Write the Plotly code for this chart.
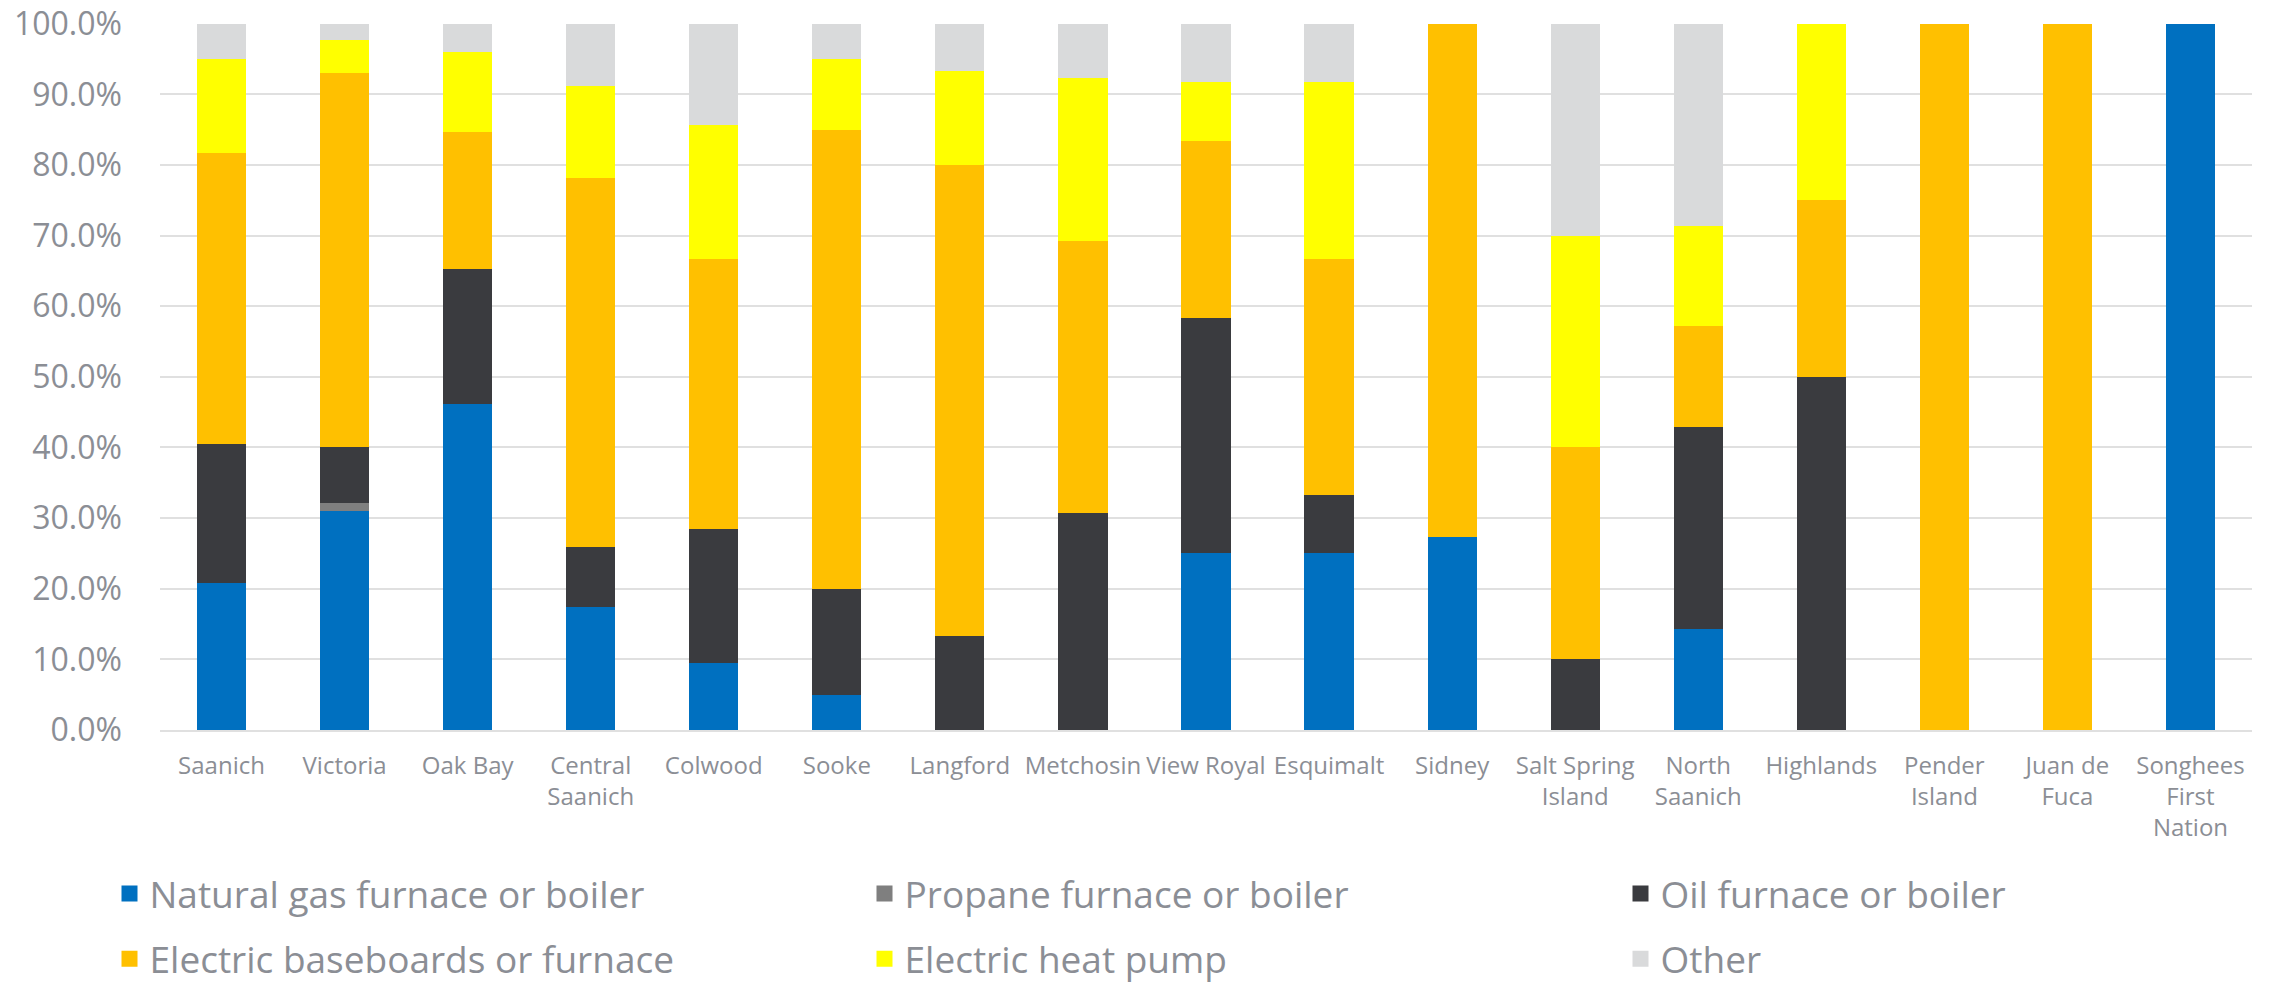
import plotly.graph_objects as go

categories = ["Saanich", "Victoria", "Oak Bay", "Central<br>Saanich", "Colwood", "Sooke",
              "Langford", "Metchosin", "View Royal", "Esquimalt", "Sidney",
              "Salt Spring<br>Island", "North<br>Saanich", "Highlands", "Pender<br>Island",
              "Juan de<br>Fuca", "Songhees<br>First<br>Nation"]

natural_gas = [20.8, 31.0, 46.1, 17.4, 9.5, 5.0, 0, 0, 25.0, 25.0, 27.3, 0, 14.3, 0, 0, 0, 100]
propane = [0, 1.1, 0, 0, 0, 0, 0, 0, 0, 0, 0, 0, 0, 0, 0, 0, 0]
oil = [19.7, 8.0, 19.2, 8.5, 19.0, 15.0, 13.3, 30.8, 33.3, 8.3, 0, 10.0, 28.6, 50.0, 0, 0, 0]
electric_baseboard = [41.2, 52.9, 19.3, 52.2, 38.2, 65.0, 66.7, 38.5, 25.0, 33.3, 72.7, 30.0, 14.3, 25.0, 100, 100, 0]
heat_pump = [13.3, 4.7, 11.4, 13.1, 19.0, 10.0, 13.3, 23.1, 8.3, 25.0, 0, 30.0, 14.3, 25.0, 0, 0, 0]
other = [5.0, 2.3, 4.0, 8.8, 14.3, 5.0, 6.7, 7.7, 8.3, 8.3, 0, 30.0, 28.6, 0, 0, 0, 0]

y_ticks = [0, 10, 20, 30, 40, 50, 60, 70, 80, 90, 100]
y_tick_labels = ["0.0%", "10.0%", "20.0%", "30.0%", "40.0%", "50.0%", "60.0%",
                 "70.0%", "80.0%", "90.0%", "100.0%"]

series = [
    ("Natural gas furnace or boiler", natural_gas, "#0070C0", "legend"),
    ("Propane furnace or boiler", propane, "#7F7F7F", "legend2"),
    ("Oil furnace or boiler", oil, "#3A3B3F", "legend3"),
    ("Electric baseboards or furnace", electric_baseboard, "#FFC000", "legend"),
    ("Electric heat pump", heat_pump, "#FFFF00", "legend2"),
    ("Other", other, "#D9DADB", "legend3"),
]

TEXT = "#8B8E95"
FONT = "Open Sans"

fig = go.Figure()
for name, vals, color, _ in series:
    fig.add_trace(go.Bar(x=categories, y=vals, name=name, marker=dict(color=color, line=dict(width=0)),
                         showlegend=False))
for i, (name, vals, color, lg) in enumerate(series):
    fig.add_trace(go.Scatter(x=[None], y=[None], mode="markers", name=name, legend=lg,
                             legendgroup=f"g{i}",
                             marker=dict(symbol="square", size=16, color=color)))

W, H = 2272, 983
L, R, T, B = 160, 20, 23, 253

leg_common = dict(orientation="v", font=dict(family=FONT, size=37, color=TEXT),
                  bgcolor="rgba(0,0,0,0)", tracegroupgap=14, itemsizing="trace",
                  xref="container", yref="container",
                  xanchor="left", yanchor="top", y=1 - 863 / H)

fig.update_layout(
    width=W, height=H,
    margin=dict(l=L, r=R, t=T, b=B, autoexpand=False),
    barmode="stack", barnorm="percent", bargap=0.6,
    plot_bgcolor="white", paper_bgcolor="white",
    font=dict(family=FONT, color=TEXT),
    legend=dict(leg_common, x=109.5 / W),
    legend2=dict(leg_common, x=864.5 / W),
    legend3=dict(leg_common, x=1620.5 / W),
    xaxis=dict(tickfont=dict(size=24, color=TEXT, family=FONT), showgrid=False,
               showline=True, linecolor="#E0E0E0", linewidth=2, ticks="",
               tickangle=0, ticklabelstandoff=13),
    yaxis=dict(range=[0, 100.1], tickvals=y_ticks, ticktext=y_tick_labels,
               tickfont=dict(size=32, color=TEXT, family=FONT),
               showgrid=True, gridcolor="#E0E0E0", gridwidth=2, zeroline=False,
               showline=False, ticks="", ticklabelstandoff=37),
)

fig.write_html("out.html", config={"displayModeBar": False},
               post_script="document.body.style.margin='0';")
